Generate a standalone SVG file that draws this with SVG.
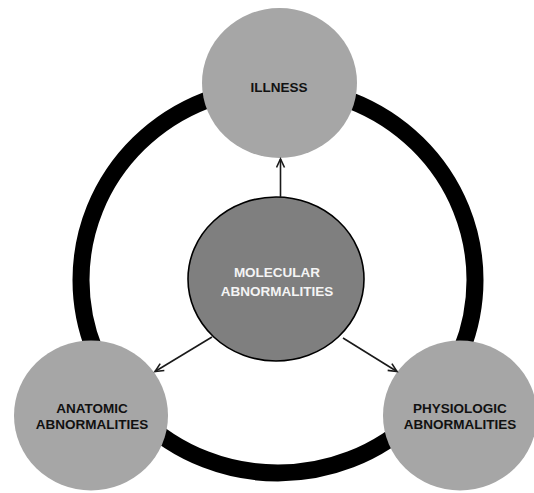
<svg xmlns="http://www.w3.org/2000/svg" width="534" height="493" viewBox="0 0 534 493">
<style>
.outer{fill:#a6a6a6;}
.center{fill:#7f7f7f;stroke:#000;stroke-width:1.6;}
.lbl{font-family:"Liberation Sans",Arial,sans-serif;font-weight:bold;font-size:13.5px;text-anchor:middle;fill:#111;}
.lblw{fill:#f4f4f4;}
.conn{stroke:#1a1a1a;stroke-width:1.6;fill:none;}
</style>
<defs>
<marker id="arr" markerUnits="userSpaceOnUse" markerWidth="12" markerHeight="12" refX="10" refY="5" orient="auto">
<path d="M1.5,1 L10,5 L1.5,9" fill="none" stroke="#1a1a1a" stroke-width="1.6"/>
</marker>
</defs>
<rect width="534" height="493" fill="#fff"/>
<g id="ring">
<ellipse cx="278" cy="280" rx="197" ry="193" fill="none" stroke="#000" stroke-width="17"/>
</g>
<g id="illness">
<ellipse class="outer" cx="279.5" cy="83" rx="77.5" ry="75"/>
<text class="lbl" x="279" y="92">ILLNESS</text>
</g>
<g id="anatomic">
<ellipse class="outer" cx="91" cy="415.5" rx="77" ry="75"/>
<text class="lbl" x="92" y="413">ANATOMIC</text>
<text class="lbl" x="92" y="428.5">ABNORMALITIES</text>
</g>
<g id="physiologic">
<ellipse class="outer" cx="460" cy="415.5" rx="77" ry="75"/>
<text class="lbl" x="460" y="413">PHYSIOLOGIC</text>
<text class="lbl" x="460" y="428.5">ABNORMALITIES</text>
</g>
<g id="molecular">
<ellipse class="center" cx="276" cy="279" rx="88" ry="82"/>
<text class="lbl lblw" x="277" y="277">MOLECULAR</text>
<text class="lbl lblw" x="277" y="295.5">ABNORMALITIES</text>
</g>
<g id="connectors">
<line class="conn" x1="280.5" y1="197" x2="280.5" y2="159" marker-end="url(#arr)"/>
<line class="conn" x1="212" y1="337" x2="155" y2="371.5" marker-end="url(#arr)"/>
<line class="conn" x1="343" y1="338" x2="397" y2="371.5" marker-end="url(#arr)"/>
</g>
</svg>
